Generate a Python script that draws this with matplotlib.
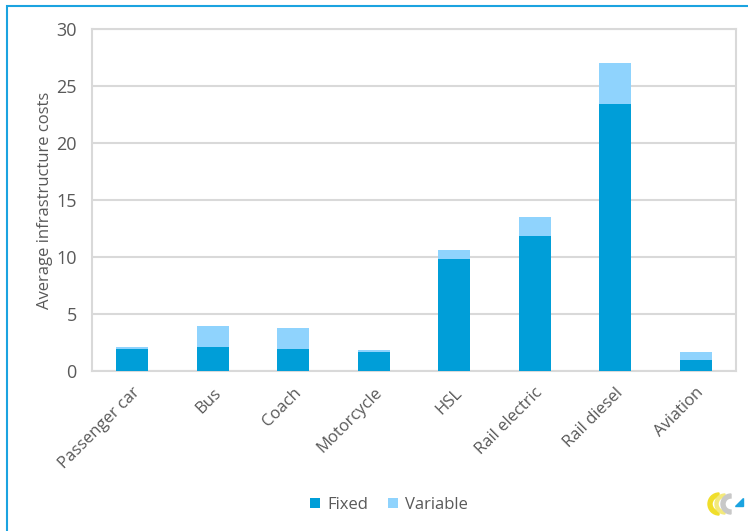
import matplotlib
matplotlib.use("Agg")
import matplotlib.pyplot as plt
from matplotlib.patches import Rectangle, Polygon, Wedge
import numpy as np

categories = ["Passenger car", "Bus", "Coach", "Motorcycle", "HSL",
              "Rail electric", "Rail diesel", "Aviation"]
fixed = [1.9, 2.07, 1.92, 1.63, 9.85, 11.8, 23.45, 1.0]
variable = [0.2, 1.91, 1.83, 0.17, 0.8, 1.7, 3.6, 0.65]
yticks = [0, 5, 10, 15, 20, 25, 30]

plt.rcParams['font.family'] = ['Open Sans', 'DejaVu Sans']
text_col = "#595959"
c_fixed = "#009ed8"
c_var = "#8fd3fd"
grid_col = "#d9d9d9"

fig = plt.figure(figsize=(7.48, 5.31), dpi=100)
ax = fig.add_axes([92/748, 1 - 371/531, (736-92)/748, (371-29)/531])

x = np.arange(len(categories))
ax.bar(x, fixed, width=0.4, color=c_fixed, label="Fixed", zorder=3)
ax.bar(x, variable, width=0.4, bottom=fixed, color=c_var, label="Variable", zorder=3)

ax.set_xlim(-0.5, len(categories) - 0.5)
ax.set_ylim(0, 30)
ax.set_yticks(yticks)
ax.set_yticklabels([str(v) for v in yticks], fontsize=13, color=text_col)
ax.set_xticks(x)
ax.set_xticklabels(categories, rotation=45, ha='right', rotation_mode='anchor',
                   fontsize=12, color=text_col)
ax.tick_params(axis='y', length=0, pad=11)
ax.tick_params(axis='x', length=0, pad=10)
ax.yaxis.grid(True, color=grid_col, linewidth=1.5, zorder=0)
for s in ax.spines.values():
    s.set_color(grid_col)
    s.set_linewidth(1.5)
ax.set_ylabel("Average infrastructure costs", fontsize=12, color=text_col)
ax.yaxis.set_label_coords((53 - 92) / 644, 0.5)

leg = fig.legend(loc='center', bbox_to_anchor=(389/748, 1 - 505/531), ncol=2,
                 frameon=False, fontsize=12, handlelength=0.6, handleheight=0.6,
                 columnspacing=1.2, handletextpad=0.4)
for t in leg.get_texts():
    t.set_color(text_col)

# border
fig.patches.append(Rectangle((7/748, -0.05), 1.1, 1 - 6/531 + 0.05,
                             transform=fig.transFigure, fill=False,
                             edgecolor="#1ba3e0", linewidth=1.5))

# small logo
lax = fig.add_axes([705/748, 1 - 522/531, 40/748, 36/531])
lax.set_xlim(0, 40); lax.set_ylim(0, 36); lax.axis('off')
lax.add_patch(Wedge((14, 18), 11, 90, 270, width=4, color="#f0de2a"))
lax.add_patch(Wedge((20, 18), 10, 90, 270, width=3, color="#f3e97a"))
lax.add_patch(Wedge((26, 18), 10, 90, 270, width=4, color="#c8c8c8"))
lax.add_patch(Polygon([[30, 16], [38, 16], [38, 24]], color="#1ba3e0"))

fig.savefig("out.png", dpi=100)
